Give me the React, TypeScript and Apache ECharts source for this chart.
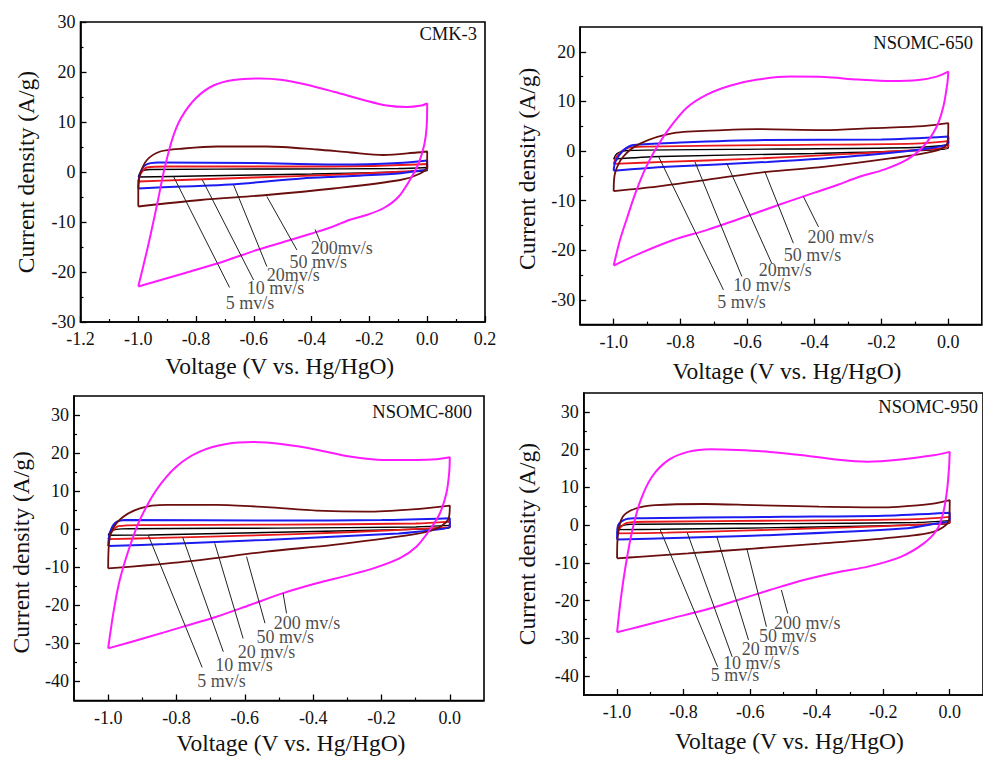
import React, { useEffect, useRef } from "react";
import * as echarts from "echarts";

type P = [number, number];

// ---------- Panel 1: CMK-3 ----------
const cmk3_5: P[] = [[-1.0,-1.0],[-0.99,0.1],[-0.96,0.5],[-0.5,0.6],[-0.1,0.7],[0.0,0.9],[0.0,0.3],[-0.05,0.1],[-0.4,-0.4],[-0.8,-0.8],[-1.0,-1.0]];
const cmk3_10: P[] = [[-1.0,-1.9],[-0.99,-0.2],[-0.97,0.9],[-0.9,1.1],[-0.5,1.1],[-0.2,1.2],[0.0,1.6],[0.0,0.6],[-0.05,0.2],[-0.3,-0.5],[-0.6,-1.1],[-0.85,-1.6],[-1.0,-1.9]];
const cmk3_20: P[] = [[-1.0,-3.3],[-0.995,-0.5],[-0.975,1.4],[-0.93,1.9],[-0.6,1.8],[-0.3,1.5],[-0.1,1.8],[0.0,2.3],[0.0,0.7],[-0.05,0.1],[-0.1,-0.3],[-0.3,-0.9],[-0.434,-1.3],[-0.682,-2.5],[-0.85,-2.9],[-1.0,-3.3]];
const cmk3_50: P[] = [[-1.0,-6.9],[-1.0,-2.9],[-0.993,-0.3],[-0.97,2.4],[-0.924,4.1],[-0.843,4.7],[-0.728,5.1],[-0.555,5.1],[-0.382,4.5],[-0.266,3.9],[-0.151,3.4],[-0.036,3.9],[0.0,4.1],[-0.001,1.1],[-0.024,-0.3],[-0.093,-1.6],[-0.324,-3.3],[-0.555,-4.6],[-0.785,-5.6],[-1.0,-6.9]];
const cmk3_200: P[] = [[-1.0,-22.9],[-0.965,-14.5],[-0.935,-6.5],[-0.91,0.5],[-0.88,7.0],[-0.85,11.0],[-0.8,14.8],[-0.74,17.3],[-0.67,18.4],[-0.58,18.7],[-0.5,18.4],[-0.42,17.5],[-0.32,16.0],[-0.22,14.4],[-0.14,13.3],[-0.07,13.0],[-0.02,13.3],[0.0,13.7],[-0.002,9.0],[-0.01,5.5],[-0.03,1.7],[-0.06,-1.6],[-0.1,-5.0],[-0.15,-7.2],[-0.21,-8.6],[-0.27,-9.6],[-0.33,-11.0],[-0.4,-12.3],[-0.48,-13.7],[-0.59,-15.6],[-0.7,-17.8],[-0.82,-19.9],[-0.91,-21.4],[-1.0,-22.9]];
const cmk3_leadStart: P[] = [[-0.878,-0.9],[-0.778,-1.6],[-0.67,-2.6],[-0.555,-4.9],[-0.388,-11.5]];
const cmk3_leadEnd: P[] = [[-0.684,-23.1],[-0.601,-21.6],[-0.555,-18.9],[-0.451,-15.6],[-0.37,-14.0]];
const cmk3_labelAt: P[] = [[-0.699,-26.2],[-0.626,-23.2],[-0.557,-20.6],[-0.478,-17.9],[-0.405,-15.2]];
const cmk3_labels = ["5 mv/s", "10 mv/s", "20mv/s", "50 mv/s", "200mv/s"];

// ---------- Panel 2: NSOMC-650 ----------
const n650_5: P[] = [[-1.0,-1.6],[-0.99,-0.5],[-0.96,0.1],[-0.5,0.4],[-0.1,0.7],[0.0,1.2],[0.0,0.6],[-0.05,0.2],[-0.4,-0.5],[-0.86,-1.1],[-1.0,-1.6]];
const n650_10: P[] = [[-1.0,-2.6],[-0.99,-1.0],[-0.96,0.6],[-0.9,0.9],[-0.5,1.2],[-0.1,1.5],[0.0,2.0],[0.0,0.9],[-0.05,0.4],[-0.3,-0.6],[-0.6,-1.6],[-0.85,-2.2],[-1.0,-2.6]];
const n650_20: P[] = [[-1.0,-4.0],[-0.995,-2.2],[-0.97,0.2],[-0.94,1.2],[-0.8,1.7],[-0.55,2.2],[-0.2,2.3],[0.0,2.9],[0.0,1.6],[-0.05,0.6],[-0.24,-0.8],[-0.54,-2.2],[-0.84,-3.2],[-1.0,-4.0]];
const n650_50: P[] = [[-1.0,-8.1],[-0.996,-4.5],[-0.971,-1.1],[-0.921,1.5],[-0.822,3.6],[-0.672,4.2],[-0.573,4.4],[-0.373,4.2],[-0.224,4.6],[-0.075,5.0],[0.0,5.6],[-0.003,1.5],[-0.045,-0.1],[-0.174,-1.5],[-0.373,-3.2],[-0.543,-4.2],[-0.722,-5.8],[-0.871,-7.2],[-1.0,-8.1]];
const n650_200: P[] = [[-1.0,-23.1],[-0.981,-17.9],[-0.96,-13.5],[-0.935,-8.5],[-0.905,-3.5],[-0.87,0.9],[-0.83,4.9],[-0.78,8.8],[-0.72,11.4],[-0.65,13.2],[-0.57,14.4],[-0.47,15.0],[-0.37,14.9],[-0.27,14.4],[-0.17,14.1],[-0.09,14.3],[-0.035,15.0],[0.0,16.0],[-0.003,13.6],[-0.015,8.9],[-0.035,4.9],[-0.075,0.9],[-0.125,-1.8],[-0.19,-3.7],[-0.27,-5.3],[-0.33,-6.8],[-0.4,-8.4],[-0.47,-10.0],[-0.55,-11.9],[-0.63,-13.8],[-0.72,-15.9],[-0.82,-17.9],[-0.92,-20.6],[-1.0,-23.1]];
const n650_leadStart: P[] = [[-0.866,-1.1],[-0.757,-2.2],[-0.662,-2.5],[-0.548,-4.2],[-0.433,-9.2]];
const n650_leadEnd: P[] = [[-0.672,-28.0],[-0.617,-25.3],[-0.528,-22.6],[-0.463,-18.6],[-0.388,-15.3]];
const n650_labelAt: P[] = [[-0.692,-30.4],[-0.644,-27.0],[-0.568,-24.0],[-0.493,-21.0],[-0.422,-17.4]];
const n650_labels = ["5 mv/s", "10 mv/s", "20mv/s", "50 mv/s", "200 mv/s"];

// ---------- Panel 3: NSOMC-800 ----------
const n800_5: P[] = [[-1.0,-1.6],[-0.99,-0.4],[-0.96,0.1],[-0.5,0.3],[-0.1,0.6],[0.0,1.0],[0.0,0.4],[-0.05,0.1],[-0.4,-0.6],[-0.88,-1.5],[-1.0,-1.6]];
const n800_10: P[] = [[-1.0,-2.6],[-0.99,-0.8],[-0.97,0.8],[-0.9,1.1],[-0.5,1.2],[-0.1,1.5],[0.0,2.0],[0.0,0.6],[-0.05,0.3],[-0.3,-0.8],[-0.6,-1.7],[-0.85,-2.3],[-1.0,-2.6]];
const n800_20: P[] = [[-1.0,-4.4],[-0.995,-1.0],[-0.98,1.6],[-0.95,2.4],[-0.5,2.3],[-0.2,2.4],[0.0,2.9],[0.0,0.7],[-0.05,-0.2],[-0.15,-1.1],[-0.54,-2.8],[-0.83,-3.9],[-1.0,-4.4]];
const n800_50: P[] = [[-1.0,-10.3],[-0.995,-1.9],[-0.966,2.5],[-0.907,5.5],[-0.829,6.4],[-0.683,6.4],[-0.537,5.8],[-0.39,4.9],[-0.244,4.6],[-0.098,5.3],[0.0,6.2],[-0.005,2.5],[-0.049,-0.2],[-0.146,-1.9],[-0.341,-4.1],[-0.537,-5.9],[-0.732,-8.1],[-0.878,-9.4],[-1.0,-10.3]];
const n800_200: P[] = [[-1.0,-31.3],[-0.985,-22.1],[-0.966,-13.3],[-0.937,-4.6],[-0.907,2.5],[-0.859,10.3],[-0.8,16.5],[-0.732,20.4],[-0.654,22.4],[-0.576,22.9],[-0.488,22.3],[-0.39,20.9],[-0.293,19.1],[-0.195,18.2],[-0.098,18.2],[-0.039,18.4],[0.0,18.9],[-0.002,14.7],[-0.01,9.5],[-0.029,4.2],[-0.059,-0.2],[-0.098,-4.6],[-0.146,-7.6],[-0.224,-10.3],[-0.293,-12.0],[-0.39,-14.2],[-0.488,-16.8],[-0.585,-19.9],[-0.683,-23.0],[-0.78,-25.6],[-0.878,-28.2],[-1.0,-31.3]];
const n800_leadStart: P[] = [[-0.883,-1.5],[-0.782,-2.1],[-0.688,-3.7],[-0.595,-7.2],[-0.488,-16.8]];
const n800_leadEnd: P[] = [[-0.725,-36.3],[-0.663,-32.2],[-0.605,-28.7],[-0.541,-24.7],[-0.478,-22.1]];
const n800_labelAt: P[] = [[-0.741,-39.9],[-0.688,-35.7],[-0.622,-32.2],[-0.567,-28.2],[-0.517,-24.7]];
const n800_labels = ["5 mv/s", "10 mv/s", "20 mv/s", "50 mv/s", "200 mv/s"];

// ---------- Panel 4: NSOMC-950 ----------
const n950_5: P[] = [[-1.0,-1.2],[-0.99,-0.3],[-0.96,0.2],[-0.5,0.4],[-0.1,0.7],[0.0,1.2],[0.0,0.5],[-0.05,0.2],[-0.4,-0.5],[-0.87,-1.1],[-1.0,-1.2]];
const n950_10: P[] = [[-1.0,-2.2],[-0.99,-0.6],[-0.97,0.6],[-0.9,0.9],[-0.5,1.2],[-0.1,1.6],[0.0,2.2],[0.0,0.6],[-0.05,0.3],[-0.3,-0.6],[-0.6,-1.4],[-0.85,-2.0],[-1.0,-2.2]];
const n950_20: P[] = [[-1.0,-3.8],[-0.998,-0.4],[-0.98,1.3],[-0.95,1.8],[-0.5,2.2],[-0.2,2.5],[0.0,3.3],[0.0,1.3],[-0.05,0.3],[-0.14,-0.9],[-0.53,-2.6],[-0.83,-3.4],[-1.0,-3.8]];
const n950_50: P[] = [[-1.0,-8.8],[-0.998,-3.1],[-0.983,2.2],[-0.944,4.4],[-0.885,5.3],[-0.737,5.6],[-0.59,5.3],[-0.393,4.9],[-0.197,4.7],[-0.049,5.7],[0.0,6.6],[-0.002,1.3],[-0.049,-1.8],[-0.197,-3.5],[-0.393,-4.9],[-0.59,-6.2],[-0.787,-7.5],[-0.934,-8.4],[-1.0,-8.8]];
const n950_200: P[] = [[-1.0,-28.4],[-0.988,-19.0],[-0.973,-10.1],[-0.954,-1.3],[-0.929,6.6],[-0.895,12.8],[-0.846,17.2],[-0.787,19.4],[-0.718,20.1],[-0.639,19.9],[-0.541,19.4],[-0.442,18.5],[-0.344,17.4],[-0.246,16.8],[-0.147,17.4],[-0.049,18.5],[0.0,19.4],[-0.002,15.4],[-0.008,9.3],[-0.02,3.1],[-0.039,-1.3],[-0.079,-4.9],[-0.147,-8.4],[-0.246,-11.0],[-0.334,-12.4],[-0.442,-14.6],[-0.541,-17.2],[-0.639,-19.9],[-0.737,-22.5],[-0.836,-24.7],[-0.934,-26.9],[-1.0,-28.4]];
const n950_leadStart: P[] = [[-0.87,-1.3],[-0.789,-2.0],[-0.7,-3.1],[-0.61,-6.2],[-0.506,-17.2]];
const n950_leadEnd: P[] = [[-0.698,-37.5],[-0.654,-34.9],[-0.605,-30.4],[-0.551,-26.9],[-0.487,-23.4]];
const n950_labelAt: P[] = [[-0.72,-39.7],[-0.683,-36.5],[-0.627,-32.9],[-0.575,-29.4],[-0.53,-26.0]];
const n950_labels = ["5 mv/s", "10 mv/s", "20 mv/s", "50 mv/s", "200 mv/s"];

// ---------- Axes (tick values) ----------
const p1X = { min: -1.2, max: 0.2, major: [-1.2, -1.0, -0.8, -0.6, -0.4, -0.2, 0.0, 0.2], minor: [-1.1, -0.9, -0.7, -0.5, -0.3, -0.1, 0.1] };
const p1Y = { min: -30, max: 30, major: [-30, -20, -10, 0, 10, 20, 30], minor: [-25, -15, -5, 5, 15, 25] };
const p2X = { min: -1.1, max: 0.1, major: [-1.0, -0.8, -0.6, -0.4, -0.2, 0.0], minor: [-0.9, -0.7, -0.5, -0.3, -0.1] };
const p2Y = { min: -35, max: 25, major: [-30, -20, -10, 0, 10, 20], minor: [-25, -15, -5, 5, 15] };
const p34Y = { min: -45, max: 35, major: [-40, -30, -20, -10, 0, 10, 20, 30], minor: [-35, -25, -15, -5, 5, 15, 25] };

const panelNames = ["CMK-3", "NSOMC-650", "NSOMC-800", "NSOMC-950"];
const rateColors = ["#000000", "#e8191c", "#1c1cf0", "#6a0e0e", "#ff1aff"];
const rateWidths = [1.4, 1.8, 2.0, 1.8, 2.0];

const FONT = "'Liberation Serif', 'Times New Roman', serif";

const panels = [
  { loops: [cmk3_5, cmk3_10, cmk3_20, cmk3_50, cmk3_200], ls: cmk3_leadStart, le: cmk3_leadEnd, la: cmk3_labelAt, lt: cmk3_labels, X: p1X, Y: p1Y,
    grid: { left: 80.5, top: 22, width: 404.5, height: 300 }, title: { right: 506, top: 24 }, xGap: 32, xShift: -3, yGap: 43, yShift: 0 },
  { loops: [n650_5, n650_10, n650_20, n650_50, n650_200], ls: n650_leadStart, le: n650_leadEnd, la: n650_labelAt, lt: n650_labels, X: p2X, Y: p2Y,
    grid: { left: 580.2, top: 27, width: 401.6, height: 297.6 }, title: { right: 10, top: 33 }, xGap: 34, xShift: 6, yGap: 41, yShift: 7 },
  { loops: [n800_5, n800_10, n800_20, n800_50, n800_200], ls: n800_leadStart, le: n800_leadEnd, la: n800_labelAt, lt: n800_labels, X: p2X, Y: p34Y,
    grid: { left: 74, top: 396, width: 410, height: 304.5 }, title: { right: 511, top: 402 }, xGap: 30, xShift: 12, yGap: 41, yShift: -4 },
  { loops: [n950_5, n950_10, n950_20, n950_50, n950_200], ls: n950_leadStart, le: n950_leadEnd, la: n950_labelAt, lt: n950_labels, X: p2X, Y: p34Y,
    grid: { left: 583.8, top: 393, width: 406.8, height: 302 }, title: { right: 5, top: 397 }, xGap: 34, xShift: 6, yGap: 45, yShift: 0 },
];

const fmtX = (v: number) => (Math.round(v * 10) / 10).toFixed(1);
const fmtY = (v: number) => String(Math.round(v));

export default function App() {
  const ref = useRef<HTMLDivElement>(null);
  useEffect(() => {
    if (!ref.current) return;
    const chart = echarts.init(ref.current, undefined, { renderer: "svg" });
    const grid: any[] = [];
    const xAxis: any[] = [];
    const yAxis: any[] = [];
    const series: any[] = [];
    const title: any[] = [];
    const line = { color: "#000", width: 1.6 };

    panels.forEach((p, k) => {
      grid.push({ ...p.grid, show: true, borderColor: "#000", borderWidth: 1.6, backgroundColor: "transparent", containLabel: false });
      title.push({ text: panelNames[k], right: p.title.right, top: p.title.top, padding: 0,
        textStyle: { fontFamily: FONT, fontSize: 18.5, fontWeight: "normal", color: "#111" } });
      const pad = (s: number) => (s >= 0 ? [0, 0, 0, 2 * s] : [0, -2 * s, 0, 0]);
      xAxis.push({
        type: "value", gridIndex: k, min: p.X.min, max: p.X.max, position: "bottom",
        name: "Voltage (V vs. Hg/HgO)", nameLocation: "middle", nameGap: p.xGap,
        nameTextStyle: { fontFamily: FONT, fontSize: 23.5, color: "#111", padding: pad(p.xShift) },
        axisLine: { show: true, onZero: false, lineStyle: line },
        axisTick: { show: true, inside: true, length: 6, customValues: p.X.major, lineStyle: { color: "#000", width: 1.3 } },
        axisLabel: { show: true, customValues: p.X.major, margin: 8, formatter: fmtX, fontFamily: FONT, fontSize: 18, color: "#111" },
        splitLine: { show: false },
      });
      xAxis.push({
        type: "value", gridIndex: k, min: p.X.min, max: p.X.max, position: "bottom",
        axisLine: { show: false, onZero: false },
        axisTick: { show: true, inside: true, length: 3, customValues: p.X.minor, lineStyle: { color: "#000", width: 1.2 } },
        axisLabel: { show: false },
        splitLine: { show: false },
      });
      yAxis.push({
        type: "value", gridIndex: k, min: p.Y.min, max: p.Y.max, position: "left",
        name: "Current density (A/g)", nameLocation: "middle", nameGap: p.yGap, nameRotate: 90,
        nameTextStyle: { fontFamily: FONT, fontSize: 23.5, color: "#111", padding: pad(p.yShift) },
        axisLine: { show: true, onZero: false, lineStyle: line },
        axisTick: { show: true, inside: true, length: 6, customValues: p.Y.major, lineStyle: { color: "#000", width: 1.3 } },
        axisLabel: { show: true, customValues: p.Y.major, margin: 5, formatter: fmtY, fontFamily: FONT, fontSize: 18, color: "#111" },
        splitLine: { show: false },
      });
      yAxis.push({
        type: "value", gridIndex: k, min: p.Y.min, max: p.Y.max, position: "left",
        axisLine: { show: false, onZero: false },
        axisTick: { show: true, inside: true, length: 3, customValues: p.Y.minor, lineStyle: { color: "#000", width: 1.2 } },
        axisLabel: { show: false },
        splitLine: { show: false },
      });
      const xi = 2 * k, yi = 2 * k;
      p.loops.forEach((d, i) => {
        series.push({ type: "line", xAxisIndex: xi, yAxisIndex: yi, data: d, symbol: "none", smooth: 0.3,
          lineStyle: { color: rateColors[i], width: rateWidths[i] }, z: 2 + i, silent: true });
      });
      p.ls.forEach((s, i) => {
        series.push({ type: "line", xAxisIndex: xi, yAxisIndex: yi, data: [s, p.le[i]], symbol: "none",
          lineStyle: { color: "#222", width: 1 }, z: 10, silent: true });
      });
      series.push({ type: "scatter", xAxisIndex: xi, yAxisIndex: yi, symbolSize: 1, z: 11, silent: true,
        itemStyle: { color: "rgba(0,0,0,0)" },
        data: p.la.map((a, i) => ({ value: a, name: p.lt[i] })),
        label: { show: true, position: "right", distance: 0, formatter: "{b}", fontFamily: FONT, fontSize: 18, color: "#1a1a1a" } });
    });

    chart.setOption({ animation: false, backgroundColor: "#fff", title, grid, xAxis, yAxis, series });
    return () => chart.dispose();
  }, []);
  return <div ref={ref} style={{ position: "fixed", left: 0, top: 0, width: 983, height: 760, background: "#fff" }} />;
}
